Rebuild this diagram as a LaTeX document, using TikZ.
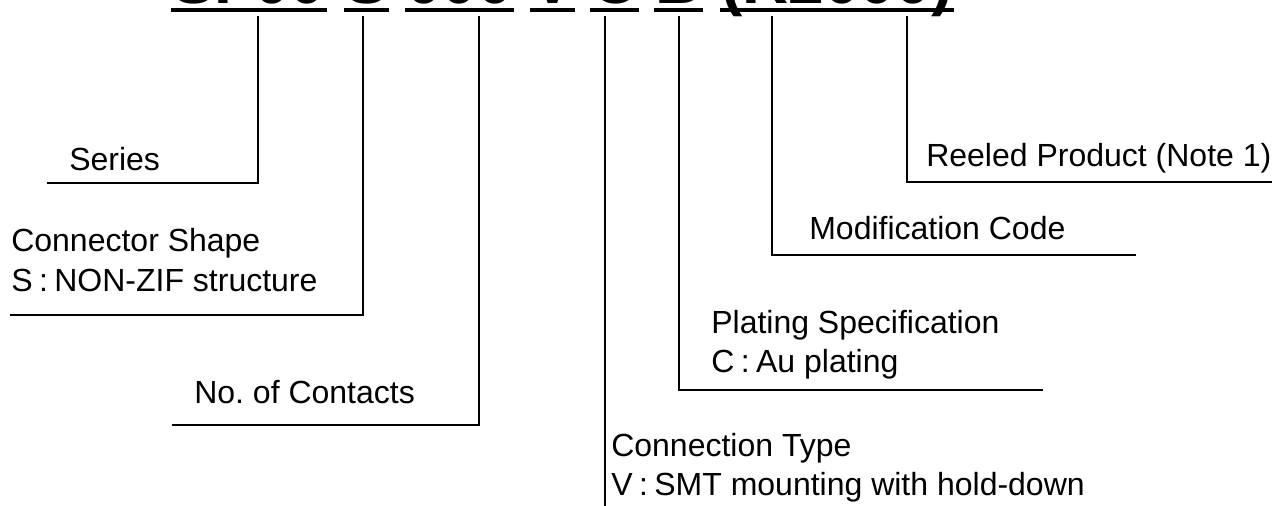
\documentclass[tikz,border=0pt]{standalone}
\usepackage{fontspec}
\setmainfont{Liberation Sans}

\begin{document}
\begin{tikzpicture}[x=1pt,y=-1pt,line width=2.6pt,
  lbl/.style={anchor=base west,inner sep=0pt,font=\fontsize{32}{38}\selectfont},
  code/.style={anchor=base west,inner sep=0pt,font=\fontsize{64}{70}\selectfont\bfseries},
  uline/.style={line width=4pt}]
\useasboundingbox (0,0) rectangle (1272,506);
\clip (0,0) rectangle (1272,506);

% part number, cut at the top
\node[code] (sf) at (171,3) {SF00};
\node[code] (shp) at (344,3) {S};
\node[code] (cnt) at (405,3) {000};
\node[code] (typ) at (530,3) {V};
\node[code] (plt) at (590,3) {C};
\node[code] (mod) at (654,3) {B};
\node[code] (reel) at (720,3) {(R2000)};
\foreach \n in {sf,shp,cnt,typ,plt,mod,reel}
  \draw[uline] ([yshift=-7pt]\n.base west)--([yshift=-7pt]\n.base east);

% labels
\node[lbl] (series) at (68,170) {Series};
\node[lbl] (shape) at (10,251) {Connector Shape};
\node[lbl] (shape2) at (10,291) {S\hspace{0.2em}:\hspace{0.2em}NON-ZIF structure};
\node[lbl] (contacts) at (193,403) {No.\ of Contacts};
\node[lbl] (conn) at (610,456) {Connection Type};
\node[lbl] (conn2) at (610,495) {V\hspace{0.2em}:\hspace{0.2em}SMT mounting with hold-down};
\node[lbl] (plating) at (710,333) {Plating Specification};
\node[lbl] (plating2) at (710,372) {C\hspace{0.2em}:\hspace{0.2em}Au plating};
\node[lbl] (modif) at (808,239) {Modification Code};
\node[lbl] (reeled) at (925,166) {Reeled Product (Note 1)};

% leader lines
\coordinate (sertop) at (258,16);
\coordinate (serend) at (47,183);
\coordinate (shptop) at (363,16);
\coordinate (shpend) at (10,315);
\coordinate (cnttop) at (479,16);
\coordinate (cntend) at (172,425);
\coordinate (typtop) at (605,16);
\coordinate (typend) at (605,506);
\coordinate (plttop) at (679,16);
\coordinate (pltend) at (1043,390);
\coordinate (modtop) at (772,16);
\coordinate (modend) at (1136,255);
\coordinate (reeltop) at (907,16);
\coordinate (reelend) at (1272,182);

\draw (sertop) |- (serend);
\draw (shptop) |- (shpend);
\draw (cnttop) |- (cntend);
\draw (typtop) -- (typend);
\draw (plttop) |- (pltend);
\draw (modtop) |- (modend);
\draw (reeltop) |- (reelend);

\end{tikzpicture}
\end{document}
